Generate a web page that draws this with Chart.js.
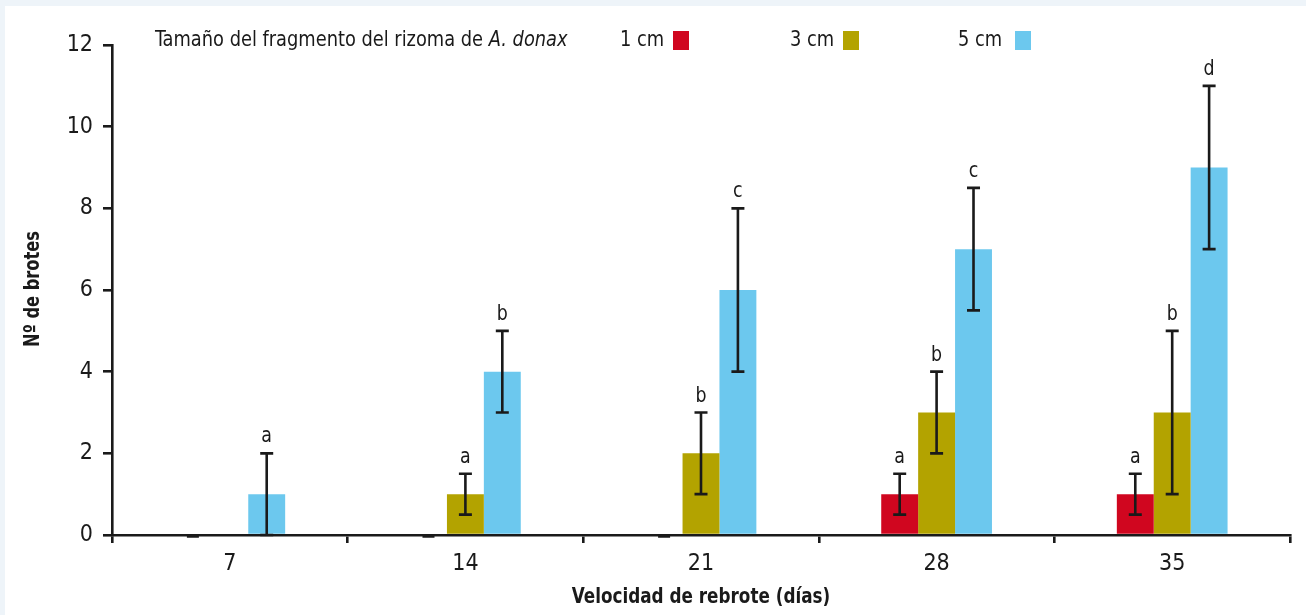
<!DOCTYPE html>
<html>
<head>
<meta charset="utf-8">
<script src="https://cdn.jsdelivr.net/npm/chart.js@4.4.1/dist/chart.umd.min.js"></script>
<style>
  html, body { margin: 0; padding: 0; background: #eef4f9; }
  #wrap { position: absolute; left: 0; top: 0; width: 1306px; height: 615px; }
</style>
</head>
<body>
<div id="wrap"><canvas id="c" width="1306" height="615"></canvas></div>
<script>
// ---- data ----
const categories = ['7', '14', '21', '28', '35'];
const seriesNames = ['1 cm', '3 cm', '5 cm'];
const values1cm = [0, 0, 0, 1, 1];
const values3cm = [0, 1, 2, 3, 3];
const values5cm = [1, 4, 6, 7, 9];
// error half-lengths (symmetric); null = no error bar
const err1cm = [0, 0, 0, 0.5, 0.5];
const err3cm = [null, 0.5, 1, 1, 2];
const err5cm = [1, 1, 2, 1.5, 2];
// significance letters
const letters1cm = ['', '', '', 'a', 'a'];
const letters3cm = ['', 'a', 'b', 'b', 'b'];
const letters5cm = ['a', 'b', 'c', 'c', 'd'];
const yTicks = [0, 2, 4, 6, 8, 10, 12];
const legendTitle = 'Tamaño del fragmento del rizoma de ';
const legendTitleItalic = 'A. donax';
const xTitle = 'Velocidad de rebrote (días)';
const yTitle = 'Nº de brotes';

const colors = ['#d0061f', '#b3a300', '#6cc8ee'];
const FONT = "'Liberation Sans Narrow', 'DejaVu Sans Condensed', 'Arial Narrow', sans-serif";
const INK = '#1a1a1a';

const errs = [err1cm, err3cm, err5cm];
const lets = [letters1cm, letters3cm, letters5cm];

const bgPlugin = {
  id: 'bg',
  beforeDraw(chart) {
    const ctx = chart.ctx;
    ctx.save();
    ctx.fillStyle = '#eef4f9';
    ctx.fillRect(0, 0, chart.width, chart.height);
    ctx.fillStyle = '#ffffff';
    ctx.fillRect(5, 6, chart.width - 5, chart.height - 6);
    ctx.restore();
  }
};

// draw text squeezed horizontally by sx (emulates a condensed face)
function squeezed(ctx, text, x, y, sx) {
  ctx.save();
  ctx.translate(x, y);
  ctx.scale(sx, 1);
  ctx.fillText(text, 0, 0);
  ctx.restore();
}

const errPlugin = {
  id: 'errbars',
  afterDatasetsDraw(chart) {
    const ctx = chart.ctx;
    const y = chart.scales.y;
    ctx.save();
    ctx.strokeStyle = INK;
    ctx.fillStyle = INK;
    ctx.font = '22px ' + FONT;
    ctx.textAlign = 'center';
    ctx.textBaseline = 'alphabetic';
    chart.data.datasets.forEach((ds, di) => {
      const meta = chart.getDatasetMeta(di);
      meta.data.forEach((bar, i) => {
        const e = errs[di][i];
        const v = ds.data[i];
        const x = bar.x;
        let topPx = y.getPixelForValue(v);
        if (e !== null && e !== undefined) {
          const hi = y.getPixelForValue(v + e);
          const lo = y.getPixelForValue(v - e);
          if (e === 0) {
            ctx.lineWidth = 3.5;
            ctx.beginPath();
            ctx.moveTo(x - 6, hi + 1); ctx.lineTo(x + 6, hi + 1);
            ctx.stroke();
          } else {
            ctx.lineWidth = 2.6;
            ctx.beginPath();
            ctx.moveTo(x, hi); ctx.lineTo(x, lo);
            ctx.moveTo(x - 6.5, hi); ctx.lineTo(x + 6.5, hi);
            ctx.moveTo(x - 6.5, lo); ctx.lineTo(x + 6.5, lo);
            ctx.stroke();
          }
          topPx = hi;
        }
        const L = lets[di][i];
        if (L) squeezed(ctx, L, x, topPx - 11, 0.88);
      });
    });
    ctx.restore();
  }
};

const textPlugin = {
  id: 'texts',
  afterDraw(chart) {
    const ctx = chart.ctx;
    ctx.save();
    ctx.fillStyle = INK;
    ctx.textBaseline = 'middle';
    // legend
    const sx = 0.9;
    ctx.textAlign = 'left';
    let x = 155;
    const ly = 40;
    ctx.font = '22px ' + FONT;
    squeezed(ctx, legendTitle, x, ly, sx);
    x += ctx.measureText(legendTitle).width * sx;
    ctx.font = 'italic 22px ' + FONT;
    squeezed(ctx, legendTitleItalic, x, ly, sx);
    const itemX = [620, 790, 958];
    const boxX = [673, 843, 1015];
    ctx.font = '22px ' + FONT;
    seriesNames.forEach((n, k) => {
      ctx.fillStyle = INK;
      squeezed(ctx, n, itemX[k], ly, sx);
      ctx.fillStyle = colors[k];
      ctx.fillRect(boxX[k], 31, 16, 19);
    });
    // axis titles
    ctx.fillStyle = INK;
    ctx.font = 'bold 22px ' + FONT;
    ctx.textAlign = 'center';
    squeezed(ctx, xTitle, 701, 597, 0.85);
    ctx.translate(33, 289);
    ctx.rotate(-Math.PI / 2);
    squeezed(ctx, yTitle, 0, 0, 0.82);
    ctx.restore();
  }
};

new Chart(document.getElementById('c'), {
  type: 'bar',
  data: {
    labels: categories,
    datasets: [
      { label: seriesNames[0], data: values1cm, backgroundColor: colors[0] },
      { label: seriesNames[1], data: values3cm, backgroundColor: colors[1] },
      { label: seriesNames[2], data: values5cm, backgroundColor: colors[2] }
    ]
  },
  options: {
    responsive: false,
    animation: false,
    devicePixelRatio: 1,
    categoryPercentage: 0.47,
    barPercentage: 1.0,
    layout: { padding: { left: 0, right: 16, top: 45, bottom: 0 } },
    plugins: { legend: { display: false }, tooltip: { enabled: false }, title: { display: false } },
    scales: {
      x: {
        offset: true,
        grid: { offset: true, drawOnChartArea: false, drawTicks: true, tickLength: 8, color: INK, lineWidth: 2.6 },
        border: { display: true, color: INK, width: 2.6 },
        ticks: { color: INK, font: { family: FONT, size: 23 }, padding: 7 },
        afterFit(s) { s.height = 80; }
      },
      y: {
        min: 0, max: 12,
        afterBuildTicks(s) { s.ticks = yTicks.map(v => ({ value: v })); },
        grid: { drawOnChartArea: false, drawTicks: true, tickLength: 9, color: INK, lineWidth: 2.6 },
        border: { display: true, color: INK, width: 2.6 },
        ticks: { color: INK, font: { family: FONT, size: 23 }, padding: 10 },
        afterFit(s) { s.width = 112; }
      }
    }
  },
  plugins: [bgPlugin, errPlugin, textPlugin]
});
</script>
</body>
</html>
